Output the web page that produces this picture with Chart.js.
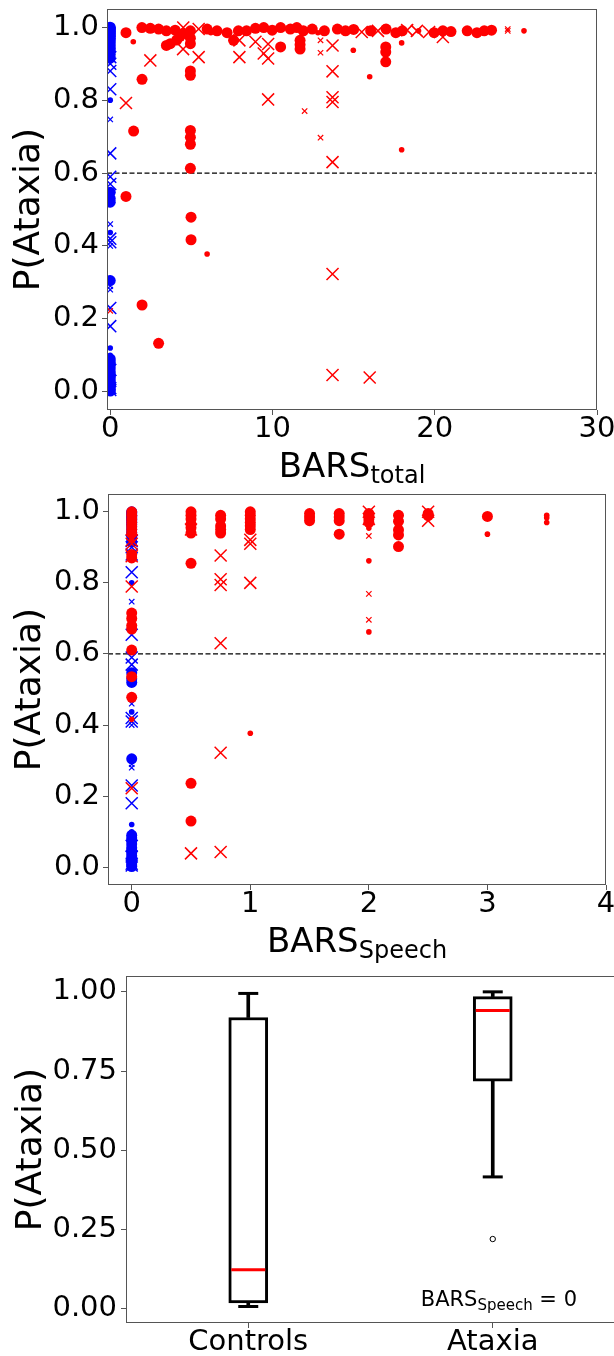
<!DOCTYPE html>
<html><head><meta charset="utf-8">
<script src="https://cdn.jsdelivr.net/npm/chart.js@4.4.1/dist/chart.umd.min.js"></script>
<style>
html,body{margin:0;padding:0;background:#fff;overflow:hidden;width:614px;height:1356px;position:relative;}
canvas{position:absolute;left:0;}
</style></head><body>
<canvas id="c1" width="614" height="490" style="top:0px"></canvas>
<canvas id="c2" width="614" height="485" style="top:490px"></canvas>
<canvas id="c3" width="620" height="391" style="top:965px"></canvas>
<script>
// ---------- shared ticks ----------
const prob_yTicks = [0.0, 0.2, 0.4, 0.6, 0.8, 1.0];
const threshold = 0.6;
const total_xTicks = [0, 10, 20, 30];
const speech_xTicks = [0, 1, 2, 3, 4];
const box_yTicks = [0.00, 0.25, 0.50, 0.75, 1.00];

// ---------- controls (BARS = 0), P(Ataxia) ----------
const ctrl_circleL = [1.0,0.997,0.994,0.99,0.987,0.983,0.979,0.975,0.97,0.965,0.958,0.95,0.942,0.935,0.925,0.915,0.547,0.53,0.52,0.305,0.09,0.082,0.075,0.065,0.055,0.048,0.04,0.032,0.025,0.018,0.012,0.006,0.002];
const ctrl_circleS = [0.98,0.80,0.437,0.12,0.1];
const ctrl_crossL = [0.918,0.90,0.88,0.83,0.654,0.59,0.57,0.42,0.41,0.23,0.18,0.06,0.03,0.01,0.005];
const ctrl_crossS = [0.96,0.747,0.46,0.40,0.29,0.28,0.075,0.045,0.02];

// ---------- ataxia vs BARS_total: [BARS_total, P(Ataxia)] ----------
const total_circleL = [
 [0.97,0.985],[1.95,0.999],[2.47,0.997],[2.98,0.995],[3.46,0.99],[4.0,0.992],[4.5,0.983],[4.94,0.99],[5.97,0.995],[6.58,0.99],
 [7.2,0.985],[7.9,0.99],[8.4,0.99],[8.95,0.997],[9.46,0.999],[9.98,0.992],[10.5,0.999],[11.1,0.995],[11.5,0.999],[11.9,0.99],
 [12.45,0.995],[13.2,0.99],[14.0,0.995],[14.5,0.99],[15.0,0.994],[16.05,0.99],[17.0,0.995],[17.6,0.985],[18.0,0.99],[19.96,0.985],
 [20.5,0.99],[21.0,0.988],[22.0,0.99],[22.6,0.985],[23.05,0.99],[23.5,0.992],
 [3.46,0.95],[3.7,0.955],[4.1,0.965],[4.3,0.975],[4.94,0.97],[4.94,0.955],[7.6,0.964],[10.5,0.946],[11.7,0.964],[11.7,0.952],
 [11.7,0.94],[16.98,0.946],[16.98,0.932],[16.98,0.905],
 [1.96,0.857],[1.44,0.715],[4.94,0.88],[4.94,0.868],[4.94,0.717],[4.94,0.698],[4.94,0.679],[4.94,0.613],[0.97,0.536],
 [4.98,0.479],[4.98,0.417],[1.96,0.238],[2.98,0.133]
];
const total_circleS = [[1.42,0.96],[5.97,0.378],[14.98,0.937],[15.99,0.864],[17.96,0.957],[17.96,0.664],[25.5,0.99],[6.2,0.985],[12.8,0.985],[19.0,0.99]];
const total_crossL = [[2.47,0.909],[0.97,0.792],[4.49,0.94],[4.5,0.999],[5.45,0.918],[5.45,0.995],[7.96,0.918],[7.96,0.964],[8.95,0.96],
 [9.46,0.928],[9.73,0.914],[9.73,0.954],[9.73,0.802],[13.7,0.95],[13.7,0.879],[13.7,0.808],[13.7,0.795],[13.7,0.63],[13.7,0.323],
 [13.7,0.046],[15.99,0.039],[15.5,0.987],[16.5,0.99],[18.3,0.992],[18.9,0.99],[19.65,0.987],[20.5,0.973]];
const total_crossS = [[11.98,0.77],[12.96,0.964],[12.96,0.93],[12.96,0.697],[0,0.222],[24.5,0.99],[24.5,0.995]];

// ---------- ataxia vs BARS_Speech: [BARS_Speech, P(Ataxia)] ----------
const speech_circleL = [
 [0,1.0],[0,0.99],[0,0.98],[0,0.97],[0,0.96],[0,0.95],[0,0.94],[0,0.88],[0,0.87],[0,0.715],[0,0.70],[0,0.68],[0,0.67],[0,0.611],[0,0.536],[0,0.478],
 [0.5,1.0],[0.5,0.99],[0.5,0.98],[0.5,0.965],[0.5,0.955],[0.5,0.94],[0.5,0.855],[0.5,0.236],[0.5,0.13],
 [0.75,0.99],[0.75,0.98],[0.75,0.96],[0.75,0.95],[0.75,0.94],
 [1,1.0],[1,0.99],[1,0.98],[1,0.97],[1,0.96],[1,0.95],
 [1.5,0.995],[1.5,0.985],[1.5,0.975],[1.75,0.995],[1.75,0.985],[1.75,0.975],[1.75,0.937],
 [2,0.995],[2,0.99],[2,0.98],[2,0.97],[2.25,0.99],[2.25,0.973],[2.25,0.949],[2.25,0.935],[2.25,0.902],
 [2.5,0.989],[2.5,0.995],[3,0.987]
];
const speech_circleS = [[0,0.416],[0,0.92],[1,0.377],[2,0.954],[2,0.862],[2,0.662],[3,0.937],[3.5,0.99],[3.5,0.983],[3.5,0.97]];
const speech_crossL = [[0,0.92],[0,0.91],[0,0.875],[0,0.79],[0,0.222],[0.5,0.039],[0.5,0.95],[0.75,0.043],[0.75,0.322],[0.75,0.877],
 [0.75,0.81],[0.75,0.794],[0.75,0.63],[1,0.921],[1,0.91],[1,0.80],[2,1.0],[2,0.98],[2.5,1.0],[2.5,0.975]];
const speech_crossS = [[0,0.95],[2,0.932],[2,0.769],[2,0.696]];

// ---------- box plot (BARS_Speech = 0) ----------
const box_labels = ['Controls', 'Ataxia'];
const box_whiskerLow = [0.007, 0.416];
const box_q1 = [0.018, 0.718];
const box_median = [0.123, 0.941];
const box_q3 = [0.919, 0.985];
const box_whiskerHigh = [0.995, 1.0];
const box_outliers = [null, 0.22];

// ---------- helpers ----------
const FONT = "'DejaVu Sans', sans-serif";
Chart.defaults.font.family = FONT;
Chart.defaults.color = '#000';
Chart.defaults.animation = false;
const RED = '#ff0000', BLUE = '#0000ff', AXIS = '#555';

const framePlugin = {
  id: 'frame',
  afterDatasetsDraw(chart) {
    const {ctx, chartArea: a} = chart;
    ctx.save();
    ctx.strokeStyle = AXIS; ctx.lineWidth = 1;
    ctx.strokeRect(Math.round(a.left) + 0.5, Math.round(a.top) + 0.5,
                   Math.round(a.right - a.left) - 1, Math.round(a.bottom - a.top) - 1);
    ctx.restore();
  }
};
const subLabelPlugin = {
  id: 'subLabel',
  afterDraw(chart, args, o) {
    if (!o || !o.main) return;
    const ctx = chart.ctx, a = chart.chartArea;
    ctx.save();
    ctx.fillStyle = '#000'; ctx.textBaseline = 'alphabetic'; ctx.textAlign = 'left';
    const f1 = o.size + 'px ' + FONT, f2 = o.subSize + 'px ' + FONT;
    ctx.font = f1; const w1 = ctx.measureText(o.main).width;
    const w3 = o.suffix ? ctx.measureText(o.suffix).width : 0;
    ctx.font = f2; const w2 = ctx.measureText(o.sub).width;
    const total = w1 + w2 + w3;
    const x = o.align === 'right' ? a.right - o.dx - total : (a.left + a.right) / 2 - total / 2;
    const y = a.bottom + o.dy;
    ctx.font = f1; ctx.fillText(o.main, x, y);
    ctx.font = f2; ctx.fillText(o.sub, x + w1, y + o.subDrop);
    if (o.suffix) { ctx.font = f1; ctx.fillText(o.suffix, x + w1 + w2, y); }
    ctx.restore();
  }
};

const toPts = arr => arr.map(p => ({x: p[0], y: p[1]}));
const ctrlPts = arr => arr.map(y => ({x: 0, y: y}));

function markerSet(data, color, style, radius, bw, order) {
  return {
    type: 'scatter', data: data, order: order,
    pointStyle: style, pointRadius: radius, pointHoverRadius: radius,
    backgroundColor: color, borderColor: color, pointBorderWidth: bw,
    showLine: false, clip: 0
  };
}

function scatterChart(id, cfg) {
  const datasets = [
    markerSet(toPts(cfg.circleL), RED, 'circle', 5.5, 0, 1),
    markerSet(toPts(cfg.circleS), RED, 'circle', 2.8, 0, 1),
    markerSet(toPts(cfg.crossL), RED, 'crossRot', 8.5, 1.5, 1),
    markerSet(toPts(cfg.crossS), RED, 'crossRot', 3.8, 1.2, 1),
    markerSet(ctrlPts(ctrl_circleL), BLUE, 'circle', 5.5, 0, 2),
    markerSet(ctrlPts(ctrl_circleS), BLUE, 'circle', 2.8, 0, 2),
    markerSet(ctrlPts(ctrl_crossL), BLUE, 'crossRot', 8.5, 1.5, 2),
    markerSet(ctrlPts(ctrl_crossS), BLUE, 'crossRot', 3.8, 1.2, 2),
    {type: 'line', data: [{x: cfg.xMin, y: threshold}, {x: cfg.xMax, y: threshold}], order: 3,
     borderColor: '#000', borderWidth: 1.3, borderDash: [5, 2.5], pointRadius: 0, showLine: true, clip: 0}
  ];
  return new Chart(document.getElementById(id), {
    type: 'scatter',
    data: {datasets},
    plugins: [framePlugin, subLabelPlugin],
    options: {
      responsive: false, animation: false, events: [],
      layout: {padding: cfg.padding, autoPadding: false},
      plugins: {legend: {display: false}, tooltip: {enabled: false},
        subLabel: {main: 'BARS', sub: cfg.sub, size: 34, subSize: 24, subDrop: 6, dy: 67}},
      scales: {
        x: {type: 'linear', min: cfg.xMin, max: cfg.xMax,
          afterBuildTicks: s => { s.ticks = cfg.xTicks.map(v => ({value: v})); },
          ticks: {font: {size: 29, lineHeight: 1}, padding: 0, color: '#000', maxRotation: 0, autoSkip: false,
                  callback: v => String(v)},
          grid: {drawOnChartArea: false, drawTicks: true, tickLength: 5, color: AXIS},
          border: {display: false},
          afterFit: s => { s.height = cfg.xHeight; s.paddingLeft = 0; s.paddingRight = 0; }},
        y: {type: 'linear', min: -0.05, max: 1.05,
          afterBuildTicks: s => { s.ticks = prob_yTicks.map(v => ({value: v})); },
          ticks: {font: {size: 29, lineHeight: 1}, padding: 3, color: '#000', callback: v => Number(v).toFixed(1)},
          grid: {drawOnChartArea: false, drawTicks: true, tickLength: 5, color: AXIS},
          border: {display: false},
          title: {display: true, text: 'P(Ataxia)', font: {size: 36}, color: '#000', padding: {top: 8, bottom: 0}},
          afterFit: s => { s.width = 107; s.paddingTop = 0; s.paddingBottom = 0; }}
      }
    }
  });
}

scatterChart('c1', {circleL: total_circleL, circleS: total_circleS, crossL: total_crossL, crossS: total_crossS,
  xMin: -0.2, xMax: 30, xTicks: total_xTicks, sub: 'total', xHeight: 80,
  padding: {top: 9, right: 17, left: 0, bottom: 0}});

scatterChart('c2', {circleL: speech_circleL, circleS: speech_circleS, crossL: speech_crossL, crossS: speech_crossS,
  xMin: -0.2, xMax: 4, xTicks: speech_xTicks, sub: 'Speech', xHeight: 90,
  padding: {top: 4, right: 8, left: 1, bottom: 0}});

// ---------- box plot ----------
new Chart(document.getElementById('c3'), {
  type: 'bar',
  data: {
    labels: box_labels,
    datasets: [
      {type: 'line', data: box_median, showLine: false, pointStyle: 'line', pointRadius: 17, pointHoverRadius: 17,
       pointBorderColor: RED, pointBorderWidth: 3, order: 0},
      {type: 'line', data: box_outliers, showLine: false, pointStyle: 'circle', pointRadius: 2.7,
       pointBackgroundColor: '#fff', pointBorderColor: '#000', pointBorderWidth: 1, order: 0},
      {type: 'line', data: box_whiskerHigh, showLine: false, pointStyle: 'line', pointRadius: 10,
       pointBorderColor: '#000', pointBorderWidth: 3, order: 1},
      {type: 'line', data: box_whiskerLow, showLine: false, pointStyle: 'line', pointRadius: 10,
       pointBorderColor: '#000', pointBorderWidth: 3, order: 1},
      {type: 'bar', data: box_q1.map((v, i) => [v, box_q3[i]]), backgroundColor: '#fff', borderColor: '#000',
       borderWidth: 3, borderSkipped: false, barThickness: 39, grouped: false, order: 2},
      {type: 'bar', data: box_q3.map((v, i) => [v, box_whiskerHigh[i]]), backgroundColor: '#000',
       borderWidth: 0, barThickness: 3, grouped: false, order: 3},
      {type: 'bar', data: box_whiskerLow.map((v, i) => [v, box_q1[i]]), backgroundColor: '#000',
       borderWidth: 0, barThickness: 3, grouped: false, order: 3}
    ]
  },
  plugins: [framePlugin, subLabelPlugin],
  options: {
    responsive: false, animation: false, events: [],
    layout: {padding: {top: 11, right: 5, left: 0, bottom: 0}, autoPadding: false},
    plugins: {legend: {display: false}, tooltip: {enabled: false},
      subLabel: {main: 'BARS', sub: 'Speech', suffix: ' = 0', size: 21, subSize: 15, subDrop: 4, dy: -17, dx: 38, align: 'right'}},
    scales: {
      x: {type: 'category', offset: true,
        ticks: {font: {size: 29, lineHeight: 1}, padding: 0, color: '#000', maxRotation: 0, autoSkip: false},
        grid: {offset: false, drawOnChartArea: false, drawTicks: true, tickLength: 5, color: AXIS},
        border: {display: false},
        afterFit: s => { s.height = 33; s.paddingLeft = 0; s.paddingRight = 0; }},
      y: {type: 'linear', min: -0.045, max: 1.05,
        afterBuildTicks: s => { s.ticks = box_yTicks.map(v => ({value: v})); },
        ticks: {font: {size: 29, lineHeight: 1}, padding: 4, color: '#000', callback: v => Number(v).toFixed(2)},
        grid: {drawOnChartArea: false, drawTicks: true, tickLength: 5, color: AXIS},
        border: {display: false},
        title: {display: true, text: 'P(Ataxia)', font: {size: 36}, color: '#000', padding: {top: 10, bottom: 0}},
        afterFit: s => { s.width = 126; s.paddingTop = 0; s.paddingBottom = 0; }}
    }
  }
});
</script>
</body></html>
